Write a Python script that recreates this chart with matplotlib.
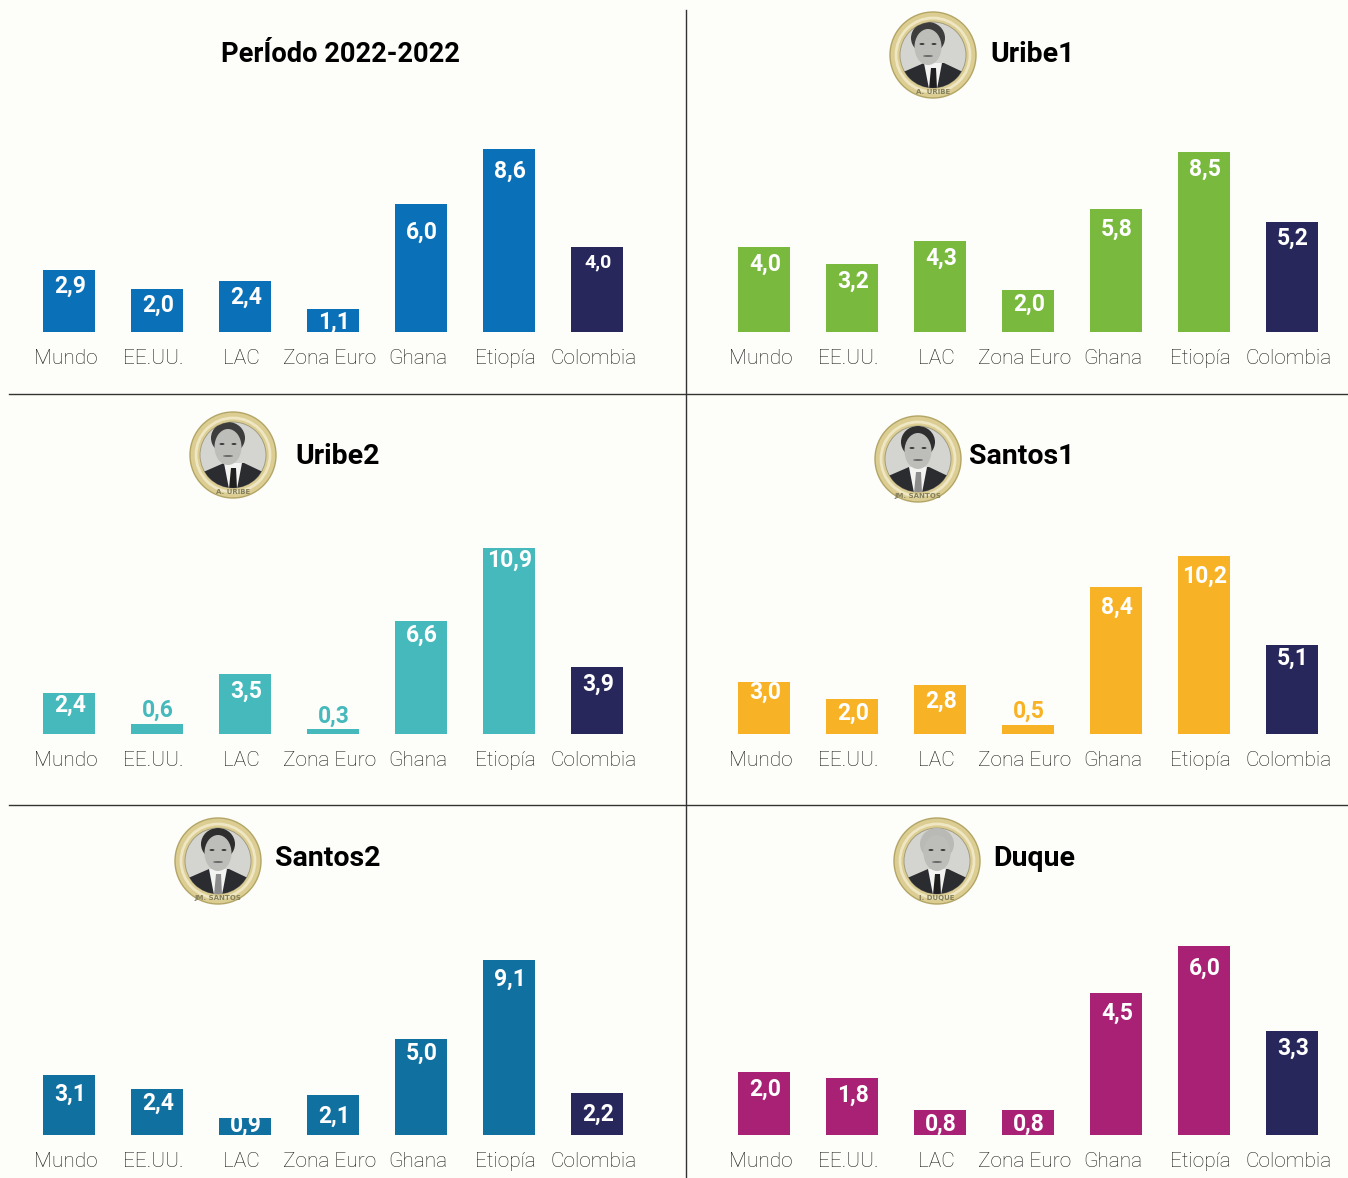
import matplotlib
matplotlib.use('Agg')
import matplotlib.pyplot as plt
from matplotlib.patches import Circle, Ellipse, Polygon

W, H = 1348, 1178
BG = '#fdfdf9'
NAVY = '#27275b'

categories = ['Mundo', 'EE.UU.', 'LAC', 'Zona Euro', 'Ghana', 'Etiopía', 'Colombia']

periodo = [2.9, 2.0, 2.4, 1.1, 6.0, 8.6, 4.0]
uribe1 = [4.0, 3.2, 4.3, 2.0, 5.8, 8.5, 5.2]
uribe2 = [2.4, 0.6, 3.5, 0.3, 6.6, 10.9, 3.9]
santos1 = [3.0, 2.0, 2.8, 0.5, 8.4, 10.2, 5.1]
santos2 = [3.1, 2.4, 0.9, 2.1, 5.0, 9.1, 2.2]
duque = [2.0, 1.8, 0.8, 0.8, 4.5, 6.0, 3.3]

# title, values, colour, left edge px, baseline px, px per unit, coin
panels = [
    ('PerÍodo 2022-2022', periodo, '#0a70b8', 25, 332, 21.3, None),
    ('Uribe1', uribe1, '#79b93e', 720, 332, 21.2, (933, 55, 'u')),
    ('Uribe2', uribe2, '#45b9bc', 25, 734, 17.1, (233, 455, 'u')),
    ('Santos1', santos1, '#f8b225', 720, 734, 17.5, (918, 459, 's')),
    ('Santos2', santos2, '#10709f', 25, 1135, 19.2, (218, 861, 's')),
    ('Duque', duque, '#a82174', 720, 1135, 31.5, (937, 861, 'd')),
]
title_y = [54, 54, 456, 456, 858, 858]

# how far the number sits below the top of its bar, px (negative: above it)
label_drop = [
    [15, 15, 15, 13, 27, 21, 15],
    [16, 16, 16, 14, 19, 16, 16],
    [11, -14, 16, -14, 13, 12, 16],
    [10, 13, 15, -15, 19, 20, 13],
    [18, 13, 7, 21, 13, 18, 21],
    [16, 16, 13, 13, 19, 21, 16],
]


def label_text(v):
    return f'{v:.1f}'.replace('.', ',')


def draw_coin(bg, cx, cy, kind):
    bg.add_patch(Circle((cx, cy), 43, fc='#dccd92', ec='#b3a565', lw=1))
    bg.add_patch(Circle((cx, cy), 37, fc='none', ec='#efe7c4', lw=2))
    inner = Circle((cx, cy), 33, fc='#d4d4d0', ec='#9b9778', lw=0.6)
    bg.add_patch(inner)
    hair, dx = {'u': ('#3d3d3d', -5), 's': ('#2e2e2e', 0), 'd': ('#b9b9b6', 0)}[kind]
    parts = [
        Polygon([(cx - 32, cy + 18), (cx - 9, cy + 8), (cx + 11, cy + 8), (cx + 32, cy + 18),
                 (cx + 32, cy + 34), (cx - 32, cy + 34)], fc='#2b2c30', ec='none'),
        Polygon([(cx - 9, cy + 8), (cx + 9, cy + 8), (cx + 4, cy + 34), (cx - 4, cy + 34)],
                fc='#f3f3f1', ec='none'),
        Polygon([(cx - 2, cy + 13), (cx + 3, cy + 13), (cx + 4, cy + 34), (cx - 4, cy + 34)],
                fc='#1f1f1f' if kind != 's' else '#8c8c8c', ec='none'),
        Ellipse((cx + dx, cy - 17), 34, 32, fc=hair, ec='none'),
        Ellipse((cx + dx, cy - 8), 27, 36, fc='#bdbdb9', ec='none'),
        Ellipse((cx + dx - 6, cy - 11), 5, 2, fc='#3a3a3a', ec='none'),
        Ellipse((cx + dx + 6, cy - 11), 5, 2, fc='#3a3a3a', ec='none'),
        Ellipse((cx + dx, cy + 1), 10, 2, fc='#6a6a6a', ec='none'),
    ]
    for p in parts:
        bg.add_patch(p)
        p.set_clip_path(inner)
    coin_name = {'u': 'A. URIBE', 's': 'JM. SANTOS', 'd': 'I. DUQUE'}[kind]
    bg.text(cx, cy + 37, coin_name, fontsize=5, color='#84805c', ha='center', va='center',
            family='DejaVu Sans', fontweight='bold')


fig = plt.figure(figsize=(W / 100, H / 100), dpi=100, facecolor=BG)

# full figure axes in pixels, for the rules, titles and coins
bg = fig.add_axes([0, 0, 1, 1])
bg.set_xlim(0, W)
bg.set_ylim(H, 0)
bg.axis('off')
bg.plot([686, 686], [10, H], color='#333333', lw=1.0)
bg.plot([9, W], [394, 394], color='#333333', lw=1.0)
bg.plot([9, W], [805, 805], color='#333333', lw=1.0)

for (title, values, colour, left, base, scale, coin), ty, drops in zip(panels, title_y, label_drop):
    ax_h = 220
    ax = fig.add_axes([left / W, (H - base) / H, 616 / W, ax_h / H])
    ax.patch.set_alpha(0)
    ax.set_xlim(-0.5, 6.5)
    ax.set_ylim(0, ax_h / scale)
    colours = [colour] * 6 + [NAVY]
    ax.bar(range(7), values, width=0.59, color=colours)
    ax.set_xticks([i - 0.04 for i in range(7)])
    ax.set_xticklabels(categories, fontsize=15, color='#1a1a1a', family='Roboto', fontweight='light')
    ax.tick_params(axis='x', length=0, pad=12.5)
    ax.set_yticks([])
    for s in ax.spines.values():
        s.set_visible(False)
    for i, (v, drop) in enumerate(zip(values, drops)):
        size = 14 if title.startswith('Per') and i == 6 else 16.5
        ax.annotate(label_text(v), (i, v), xytext=(1, -drop - 1), textcoords='offset pixels', ha='center',
                    va='center', color=colour if drop < 0 else 'white', fontsize=size,
                    fontweight='bold', family='Roboto')
    if coin is None:
        bg.text(340, ty, title, fontsize=19.6, fontweight='bold', ha='center', va='center', color='black',
                family='Roboto')
    else:
        draw_coin(bg, coin[0], coin[1], coin[2])
        bg.text(380 if left < 100 else 1075, ty, title, fontsize=20.5, fontweight='bold', ha='right',
                va='center', color='black', family='Roboto')

fig.savefig('out.png', dpi=100, facecolor=BG)
